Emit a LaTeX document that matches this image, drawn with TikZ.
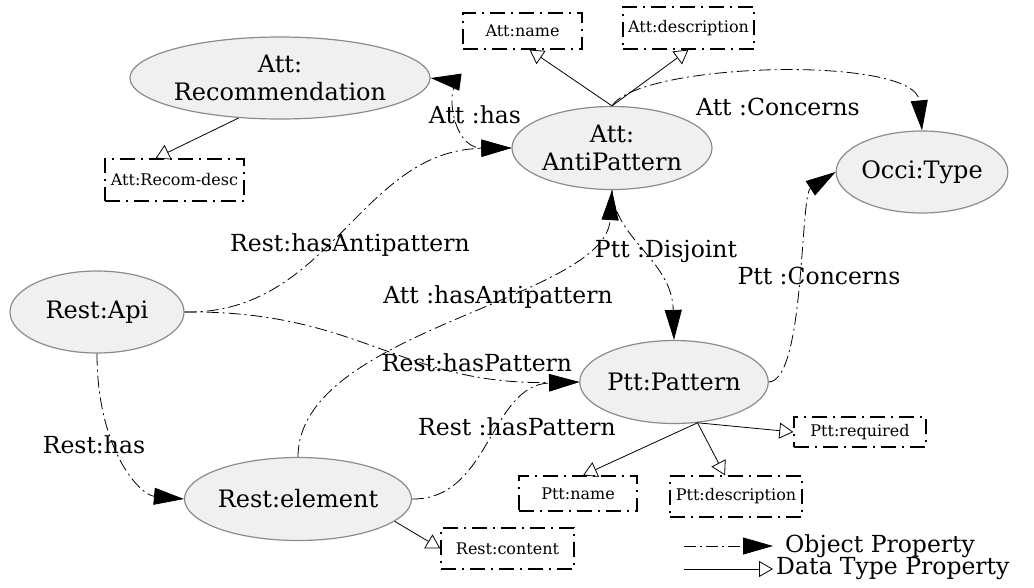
\documentclass[tikz,border=0pt]{standalone}
\usepackage{fontspec}
\setmainfont{DejaVu Serif}
\usetikzlibrary{arrows.meta,shapes.geometric}

\begin{document}
\begin{tikzpicture}[x=1pt,y=-1pt,
  concept/.style={ellipse, draw=black!45, line width=1.2pt, fill=black!6,
    inner sep=0pt, font=\fontsize{24}{28}\selectfont, align=center},
  datum/.style={rectangle, draw=black, line width=1.3pt,
    dash pattern=on 15pt off 6pt on 2pt off 6pt, inner sep=0pt,
    font=\fontsize{16}{18}\selectfont},
  objprop/.style={line width=0.8pt, dash pattern=on 12pt off 4pt on 2pt off 4pt,
    -{Triangle[length=30pt,width=17pt]}},
  dataprop/.style={line width=0.8pt, -{Triangle[open,length=14pt,width=16pt]}},
  lbl/.style={font=\fontsize{23.5}{27}\selectfont, inner sep=0pt}
]
\useasboundingbox (0,0) rectangle (1034,587);
\fill[white] (0,0) rectangle (1034,587);

% classes
\node[concept, minimum width=249pt, minimum height=82pt] (rec)  at (280,78)  {Att:\\Recommendation};
\node[concept, minimum width=200pt, minimum height=83pt] (anti) at (612,148) {Att:\\AntiPattern};
\node[concept, minimum width=160pt, minimum height=82pt] (occi) at (922,172) {Occi:Type};
\node[concept, minimum width=174pt, minimum height=82pt] (api)  at (97,312)  {Rest:Api};
\node[concept, minimum width=169pt, minimum height=83pt] (elem) at (298,499) {Rest:element};
\node[concept, minimum width=160pt, minimum height=83pt] (ptt)  at (674,382) {Ptt:Pattern};

% literal values
\node[datum, minimum width=139pt, minimum height=42pt] (recdesc) at (174.5,180) {Att:Recom-desc};
\node[datum, minimum width=119pt, minimum height=36pt] (attname) at (522.5,31)  {Att:name};
\node[datum, minimum width=131pt, minimum height=42pt] (attdesc) at (688.5,28)  {Att:description};
\node[datum, minimum width=133pt, minimum height=41pt] (restcon) at (507.5,548.5) {Rest:content};
\node[datum, minimum width=118pt, minimum height=35pt] (pttname) at (578,493.5) {Ptt:name};
\node[datum, minimum width=132pt, minimum height=41pt] (pttdesc) at (736,496.5) {Ptt:description};
\node[datum, minimum width=132pt, minimum height=30pt] (pttreq)  at (860,432)   {Ptt:required};

% data type properties
\draw[dataprop] (rec.-136) -- ([xshift=-19pt]recdesc.north);
\draw[dataprop] (anti.north) -- ([xshift=7pt]attname.south);
\draw[dataprop] (anti.north) -- (attdesc.south);
\draw[dataprop] (elem.-13) -- (restcon.west);
\draw[dataprop] (ptt.-60) -- ([xshift=5pt]pttname.north);
\draw[dataprop] (ptt.-60) -- ([xshift=-11pt]pttdesc.north);
\draw[dataprop] (ptt.-60) -- (pttreq.west);

% object properties
\draw[objprop, {Triangle[length=30pt,width=17pt]}-{Triangle[length=30pt,width=17pt]}]
  (rec.east) .. controls (445,80) and (450,148) .. (anti.west);
\node[lbl] (lhas) at (475,115) {Att :has};

\draw[objprop] (anti.north) .. controls (640,62) and (915,55) .. (occi.north);
\node[lbl] (lconc) at (778,107) {Att :Concerns};

\draw[objprop] (anti.south) .. controls (615,240) and (672,260) .. (ptt.north);
\node[lbl] (ldisj) at (666,251) {Ptt :Disjoint};

\draw[objprop] (ptt.east) .. controls (805,380) and (800,195) .. (occi.west);
\node[lbl] (lpconc) at (819,276) {Ptt :Concerns};

\draw[objprop] (api.east) .. controls (330,315) and (360,150) .. (anti.west);
\node[lbl] (lrha) at (350,245) {Rest:hasAntipattern};

\draw[objprop] (elem.north) .. controls (298,330) and (605,300) .. (anti.south);
\node[lbl] (laha) at (498,297) {Att :hasAntipattern};

\draw[objprop] (api.east) .. controls (360,310) and (400,385) .. (ptt.west);
\node[lbl] (lrhp) at (477,363) {Rest:hasPattern};

\draw[objprop] (elem.east) .. controls (490,500) and (490,385) .. (ptt.west);
\node[lbl] (lrhp2) at (517,427) {Rest :hasPattern};

\draw[objprop] (api.south) .. controls (97,450) and (140,495) .. (elem.west);
\node[lbl] (lrh) at (94,445) {Rest:has};

% legend
\coordinate (oa) at (684,546);
\coordinate (ob) at (773,546);
\coordinate (da) at (684,569);
\coordinate (db) at (773,569);
\draw[objprop] (oa) -- (ob);
\draw[dataprop] (da) -- (db);
\node[lbl, anchor=west] (lobj) at (785,546) {Object Property};
\node[lbl, anchor=west] (ldat) at (776,569) {Data Type Property};
\end{tikzpicture}
\end{document}
